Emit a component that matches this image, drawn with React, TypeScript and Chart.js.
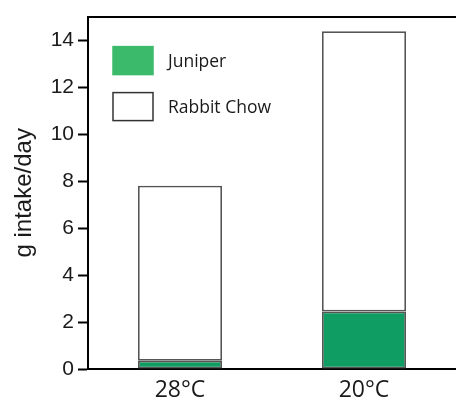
import React, { useEffect, useRef } from "react";
import { Chart, registerables } from "chart.js";

Chart.register(...registerables);

const categories = ["28°C", "20°C"];
const juniper = [0.35, 2.45];
const rabbitChow = [7.45, 11.93];
const yTicks = [0, 2, 4, 6, 8, 10, 12, 14];

const legendPlugin = {
  id: "insideLegend",
  afterDraw(chart: any) {
    const { ctx, chartArea } = chart;
    const items = [
      { label: "Juniper", fill: "#3cba6c", stroke: "#3cba6c" },
      { label: "Rabbit Chow", fill: "#ffffff", stroke: "#333333" },
    ];
    ctx.save();
    items.forEach((it, i) => {
      const x = chartArea.left + 25;
      const y = chartArea.top + 30 + i * 46;
      ctx.fillStyle = it.fill;
      ctx.fillRect(x, y, 40, 28);
      ctx.strokeStyle = it.stroke;
      ctx.lineWidth = 1.5;
      ctx.strokeRect(x, y, 40, 28);
      ctx.fillStyle = "#1a1a1a";
      ctx.font = "17.5px 'Open Sans'";
      ctx.textBaseline = "middle";
      ctx.textAlign = "left";
      ctx.fillText(it.label, x + 55, y + 15);
    });
    ctx.restore();
  },
};

export default function App() {
  const ref = useRef<HTMLCanvasElement>(null);
  useEffect(() => {
    document.body.style.margin = "0";
    const chart = new Chart(ref.current!, {
      type: "bar",
      data: {
        labels: categories,
        datasets: [
          {
            label: "Juniper",
            data: juniper,
            backgroundColor: "#0f9d63",
            borderColor: "#555555",
            borderWidth: 1.8,
            borderSkipped: false,
            barPercentage: 0.457,
            categoryPercentage: 1,
          },
          {
            label: "Rabbit Chow",
            data: rabbitChow,
            backgroundColor: "#ffffff",
            borderColor: "#555555",
            borderWidth: 1.8,
            borderSkipped: false,
            barPercentage: 0.457,
            categoryPercentage: 1,
          },
        ],
      },
      options: {
        animation: false,
        responsive: false,
        layout: { padding: { top: 15, left: 0, right: 0, bottom: 0 } },
        plugins: { legend: { display: false }, tooltip: { enabled: false } },
        scales: {
          x: {
            stacked: true,
            grid: { display: false, drawTicks: false },
            border: { display: true, color: "#000", width: 2 },
            ticks: {
              color: "#1a1a1a",
              font: { family: "'Open Sans'", size: 23 },
              padding: 8,
            },
            afterFit: (s: any) => {
              s.height = 33;
            },
          },
          x2: {
            position: "top",
            grid: { display: false, drawTicks: false },
            border: { display: true, color: "#000", width: 2 },
            ticks: { display: false },
            afterFit: (s: any) => {
              s.height = 0;
            },
          },
          y: {
            stacked: true,
            min: 0,
            max: 15,
            afterBuildTicks: (s: any) => {
              s.ticks = yTicks.map((v) => ({ value: v }));
            },
            grid: {
              display: true,
              drawOnChartArea: false,
              drawTicks: true,
              tickLength: 10,
              tickWidth: 2,
              tickColor: "#000",
            },
            border: { display: true, color: "#000", width: 2 },
            ticks: {
              color: "#1a1a1a",
              font: { family: "'Liberation Sans'", size: 21 },
              padding: 4,
            },
            title: {
              display: true,
              text: "g intake/day",
              color: "#1a1a1a",
              font: { family: "'Liberation Sans'", size: 24 },
              padding: { top: 10, bottom: 0 },
            },
            afterFit: (s: any) => {
              s.width = 88;
            },
          },
        },
      },
      plugins: [legendPlugin],
    });
    return () => chart.destroy();
  }, []);
  return <canvas ref={ref} width={456} height={402} style={{ display: "block" }} />;
}
